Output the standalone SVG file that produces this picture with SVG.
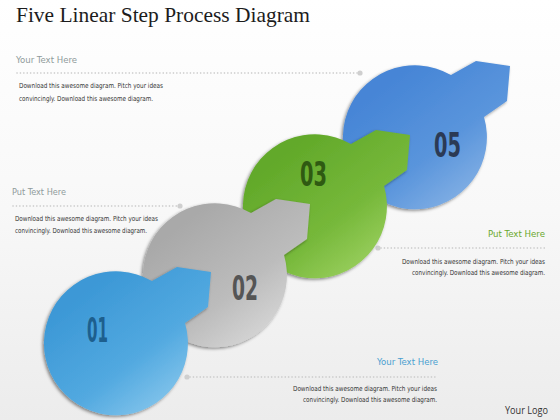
<svg xmlns="http://www.w3.org/2000/svg" xmlns:xlink="http://www.w3.org/1999/xlink" width="560" height="420" viewBox="0 0 560 420">
<defs>
<style>
.title{font-family:"Liberation Serif",serif;font-size:22px;fill:#1c1c1c}
.head{font-family:"DejaVu Sans Condensed","DejaVu Sans",sans-serif;font-size:9.5px}
.body{font-family:"DejaVu Sans Condensed","DejaVu Sans",sans-serif;font-size:7px;fill:#333}
.num{font-family:"DejaVu Sans Condensed","DejaVu Sans",sans-serif;font-weight:bold;font-size:33px}
.dots{stroke:#c6c6c6;stroke-width:1.6;stroke-linecap:round;stroke-dasharray:0.1 3.3;fill:none}
.dot{fill:#cfcfcf}
.logo{font-family:"Open Sans","Liberation Sans",sans-serif;font-size:10px;fill:#333}
</style>
<linearGradient id="bg" x1="0" y1="0" x2="0" y2="1">
<stop offset="0" stop-color="#ffffff"/><stop offset="0.5" stop-color="#f8f8f8"/><stop offset="1" stop-color="#ececec"/>
</linearGradient>
<linearGradient id="g1" x1="0.2" y1="0.2" x2="0.85" y2="0.95">
<stop offset="0" stop-color="#3c98d6"/><stop offset="0.55" stop-color="#52a9e0"/><stop offset="1" stop-color="#8fcbee"/>
</linearGradient>
<linearGradient id="g2" x1="0.2" y1="0.2" x2="0.85" y2="0.95">
<stop offset="0" stop-color="#a9a9a9"/><stop offset="0.55" stop-color="#bcbcbc"/><stop offset="1" stop-color="#dcdcdc"/>
</linearGradient>
<linearGradient id="g3" x1="0.2" y1="0.2" x2="0.85" y2="0.95">
<stop offset="0" stop-color="#62a92a"/><stop offset="0.55" stop-color="#76b83a"/><stop offset="1" stop-color="#a2d466"/>
</linearGradient>
<linearGradient id="g5" x1="0.2" y1="0.2" x2="0.85" y2="0.95">
<stop offset="0" stop-color="#4685d6"/><stop offset="0.55" stop-color="#5a95dc"/><stop offset="1" stop-color="#8cb6e6"/>
</linearGradient>
<filter id="sh" x="-20%" y="-20%" width="140%" height="140%">
<feDropShadow dx="-1.5" dy="1.5" stdDeviation="1.6" flood-color="#000" flood-opacity="0.45"/>
</filter>
<path id="shp" d="M36,-62 L61,-76 L95,-71 L92,-36 L69,-20 A72,72 0 1 1 36,-62 Z"/>
</defs>
<rect width="560" height="420" fill="url(#bg)"/>
<text class="title" x="16" y="22" textLength="294" lengthAdjust="spacingAndGlyphs">Five Linear Step Process Diagram</text>

<g id="leaders">
<line class="dots" x1="17" y1="73" x2="357" y2="73"/><circle class="dot" cx="360" cy="73" r="2.6"/>
<line class="dots" x1="13" y1="206" x2="177" y2="206"/><circle class="dot" cx="180" cy="206" r="2.6"/>
<line class="dots" x1="381" y1="248" x2="545" y2="248"/><circle class="dot" cx="378" cy="248" r="2.6"/>
<line class="dots" x1="190" y1="377" x2="438" y2="377"/><circle class="dot" cx="187" cy="377" r="2.6"/>
</g>

<g id="step5">
<use xlink:href="#shp" href="#shp" transform="translate(415,137)" fill="url(#g5)" filter="url(#sh)"/>
<text class="num" x="434" y="157" fill="#2b3a55" textLength="27" lengthAdjust="spacingAndGlyphs">05</text>
</g>
<g id="step3">
<use xlink:href="#shp" href="#shp" transform="translate(315,206)" fill="url(#g3)" filter="url(#sh)"/>
<text class="num" x="300" y="186" fill="#2f5a12" textLength="27" lengthAdjust="spacingAndGlyphs">03</text>
</g>
<g id="step2">
<use xlink:href="#shp" href="#shp" transform="translate(215,275)" fill="url(#g2)" filter="url(#sh)"/>
<text class="num" x="232" y="300" fill="#555555" textLength="26" lengthAdjust="spacingAndGlyphs">02</text>
</g>
<g id="step1">
<use xlink:href="#shp" href="#shp" transform="translate(116,343)" fill="url(#g1)" filter="url(#sh)"/>
<text class="num" x="87" y="342" fill="#1d5f8e" textLength="21" lengthAdjust="spacingAndGlyphs">01</text>
</g>

<g id="text1">
<text class="head" x="16" y="63" fill="#8f9b9b" textLength="61" lengthAdjust="spacingAndGlyphs">Your Text Here</text>
<text class="body" x="19" y="88" textLength="144" lengthAdjust="spacingAndGlyphs">Download this awesome diagram. Pitch your ideas</text>
<text class="body" x="19" y="101" textLength="134" lengthAdjust="spacingAndGlyphs">convincingly. Download this awesome diagram.</text>
</g>
<g id="text2">
<text class="head" x="12" y="195" fill="#8f9b9b" textLength="54" lengthAdjust="spacingAndGlyphs">Put Text Here</text>
<text class="body" x="15" y="221" textLength="143" lengthAdjust="spacingAndGlyphs">Download this awesome diagram. Pitch your ideas</text>
<text class="body" x="15" y="233" textLength="132" lengthAdjust="spacingAndGlyphs">convincingly. Download this awesome diagram.</text>
</g>
<g id="text3">
<text class="head" x="488" y="237" fill="#6aa82c" textLength="57" lengthAdjust="spacingAndGlyphs">Put Text Here</text>
<text class="body" x="402" y="264" textLength="143" lengthAdjust="spacingAndGlyphs">Download this awesome diagram. Pitch your ideas</text>
<text class="body" x="412" y="275" textLength="133" lengthAdjust="spacingAndGlyphs">convincingly. Download this awesome diagram.</text>
</g>
<g id="text4">
<text class="head" x="377" y="365" fill="#4a9fd0" textLength="61" lengthAdjust="spacingAndGlyphs">Your Text Here</text>
<text class="body" x="293" y="391" textLength="144" lengthAdjust="spacingAndGlyphs">Download this awesome diagram. Pitch your ideas</text>
<text class="body" x="303" y="402" textLength="134" lengthAdjust="spacingAndGlyphs">convincingly. Download this awesome diagram.</text>
</g>
<text class="logo" x="505" y="414" textLength="43" lengthAdjust="spacingAndGlyphs">Your Logo</text>
</svg>
